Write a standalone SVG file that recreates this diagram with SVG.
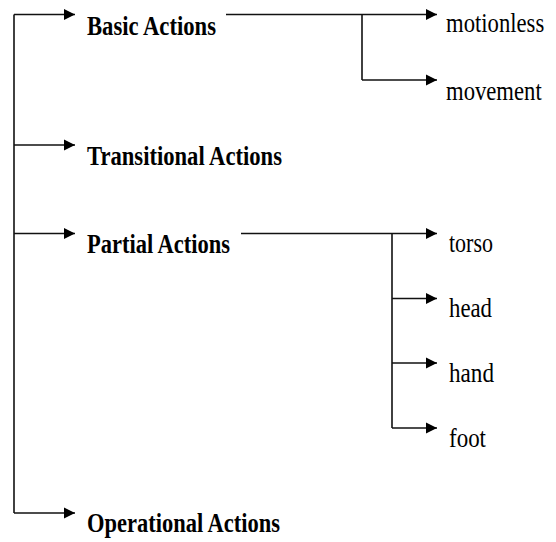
<svg xmlns="http://www.w3.org/2000/svg" width="556" height="542" viewBox="0 0 556 542">
<defs>
<marker id="ah" viewBox="0 0 10 10" refX="10" refY="5" markerWidth="11" markerHeight="12" markerUnits="userSpaceOnUse" orient="auto">
<path d="M0,0 L10,5 L0,10 Z" fill="#000"/>
</marker>
<style>
.ln{stroke:#111;stroke-width:1.6;fill:none}
.ar{stroke:#111;stroke-width:1.6;fill:none;marker-end:url(#ah)}
.b{font-family:"Liberation Serif",serif;font-weight:bold;font-size:28px;fill:#000}
.r{font-family:"Liberation Serif",serif;font-size:27px;fill:#000}
</style>
</defs>
<rect width="556" height="542" fill="#fff"/>
<g id="connectors">
<path class="ln" d="M14,14.5 V513"/>
<path class="ar" d="M14,14.5 H75"/>
<path class="ar" d="M14,145 H75"/>
<path class="ar" d="M14,233.5 H75"/>
<path class="ar" d="M14,513 H75"/>
<path class="ar" d="M226,14.5 H437"/>
<path class="ln" d="M362,14.5 V80"/>
<path class="ar" d="M362,80 H437"/>
<path class="ar" d="M241,233.5 H437"/>
<path class="ln" d="M392,233.5 V428"/>
<path class="ar" d="M392,298.5 H437"/>
<path class="ar" d="M392,363 H437"/>
<path class="ar" d="M392,428 H437"/>
</g>
<g id="basic"><text class="b" x="87" y="35" textLength="129" lengthAdjust="spacingAndGlyphs">Basic Actions</text></g>
<g id="motionless"><text class="r" transform="translate(446,32) scale(0.84,1)">motionless</text></g>
<g id="movement"><text class="r" transform="translate(446,100) scale(0.84,1)">movement</text></g>
<g id="transitional"><text class="b" x="87" y="165" textLength="195" lengthAdjust="spacingAndGlyphs">Transitional Actions</text></g>
<g id="partial"><text class="b" x="87" y="253" textLength="143" lengthAdjust="spacingAndGlyphs">Partial Actions</text></g>
<g id="torso"><text class="r" x="449" y="252" textLength="44" lengthAdjust="spacingAndGlyphs">torso</text></g>
<g id="head"><text class="r" x="449" y="317" textLength="43" lengthAdjust="spacingAndGlyphs">head</text></g>
<g id="hand"><text class="r" x="449" y="382" textLength="45" lengthAdjust="spacingAndGlyphs">hand</text></g>
<g id="foot"><text class="r" x="449" y="447" textLength="37" lengthAdjust="spacingAndGlyphs">foot</text></g>
<g id="operational"><text class="b" x="87" y="532" textLength="193" lengthAdjust="spacingAndGlyphs">Operational Actions</text></g>
</svg>
